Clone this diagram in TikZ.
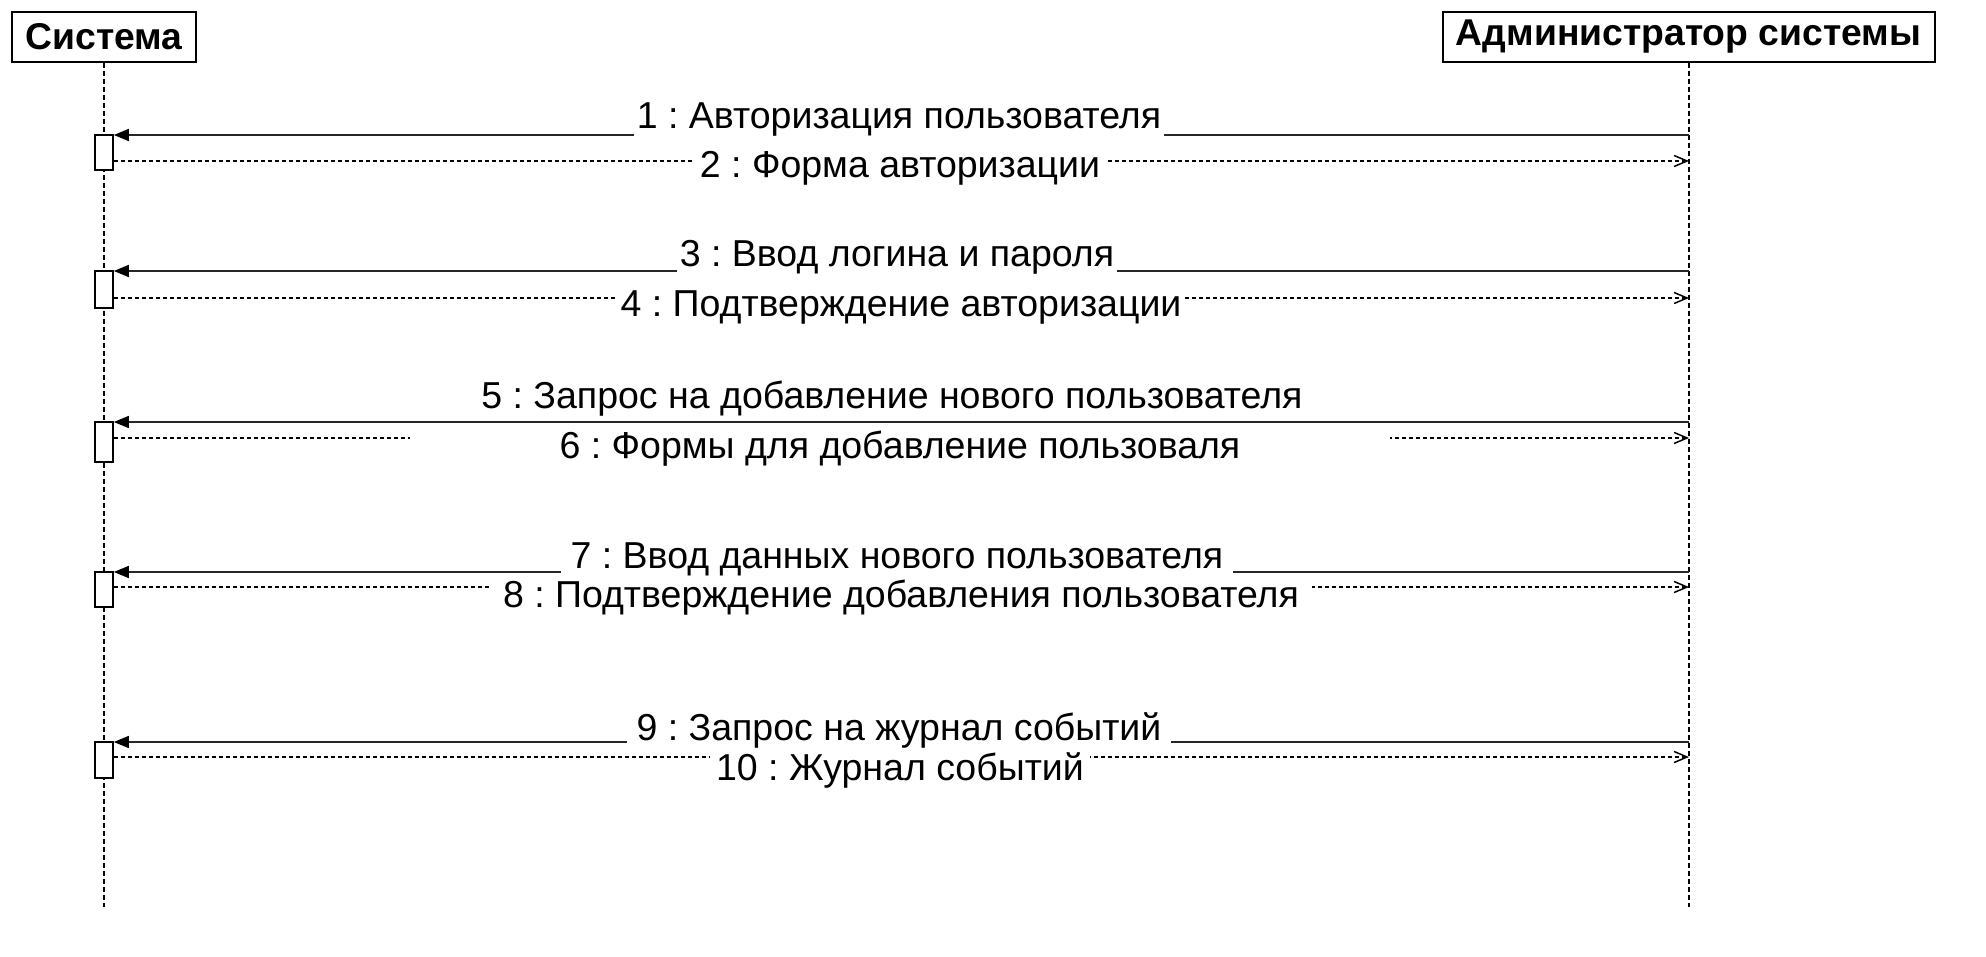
\documentclass[tikz,border=0pt]{standalone}
\usepackage{fontspec}
\setmainfont{Liberation Sans}
\usetikzlibrary{arrows.meta}
\begin{document}
\frenchspacing
\begin{tikzpicture}[x=1pt,y=-1pt,
  head/.style={draw=black, line width=2pt, fill=white, inner sep=0pt,
    minimum height=50pt, font=\bfseries\fontsize{37.3}{40}\selectfont},
  life/.style={line width=1.6pt, dash pattern=on 5pt off 3pt},
  act/.style={draw=black, line width=1.6pt, fill=white, minimum width=18pt, inner sep=0pt},
  call/.style={line width=1.6pt, draw=black!85, -{Triangle[length=15pt,width=12pt,color=black,fill=black]}},
  ret/.style={line width=1.5pt, dash pattern=on 4pt off 3pt, -{Straight Barb[length=13pt,width=11pt,line width=1.5pt]}},
  lbl/.style={fill=white, anchor=base, inner xsep=3pt, inner ysep=2.5pt, text height=26pt, text depth=5pt,
    font=\fontsize{37.5}{40}\selectfont}]
\useasboundingbox (0,0) rectangle (1986,957);
\fill[white] (0,0) rectangle (1986,957);

% participants
\node[head, minimum width=184pt] (sys) at (104,37) {Система};
\node[head, minimum width=492pt] (adm) at (1688.5,37) {Администратор системы};
\coordinate (sysend) at (104,907);
\coordinate (admend) at (1689,907);
\draw[life] (sys) -- (sysend);
\draw[life] (adm.south -| admend) -- (admend);

% activations
\node[act, minimum height=35pt] (a1) at (104,152.5) {};
\node[act, minimum height=37pt] (a2) at (104,289.5) {};
\node[act, minimum height=40pt] (a3) at (104,442) {};
\node[act, minimum height=35pt] (a4) at (104,589.5) {};
\node[act, minimum height=36pt] (a5) at (104,760) {};

% message endpoints on admin lifeline
\coordinate (m1) at (1689,135);
\coordinate (m2) at (1689,161);
\coordinate (m3) at (1689,271);
\coordinate (m4) at (1689,298);
\coordinate (m5) at (1689,422);
\coordinate (m6) at (1689,438);
\coordinate (m7) at (1689,572);
\coordinate (m8) at (1689,587);
\coordinate (m9) at (1689,742);
\coordinate (m10) at (1689,757);

\draw[call] (m1) -- (a1.east |- m1);
\draw[ret] (a1.east |- m2) -- (m2);
\draw[call] (m3) -- (a2.east |- m3);
\draw[ret] (a2.east |- m4) -- (m4);
\draw[call] (m5) -- (a3.east |- m5);
\draw[ret] (a3.east |- m6) -- (m6);
\draw[call] (m7) -- (a4.east |- m7);
\draw[ret] (a4.east |- m8) -- (m8);
\draw[call] (m9) -- (a5.east |- m9);
\draw[ret] (a5.east |- m10) -- (m10);

% labels
\node[lbl] (l1) at (899,129) {1 : Авторизация пользователя};
\node[lbl, inner xsep=5pt] (l2) at (900,178) {2 : Форма авторизации};
\node[lbl] (l3) at (897,267) {3 : Ввод логина и пароля};
\node[lbl, inner xsep=4pt] (l4) at (901,317) {4 : Подтверждение авторизации};
\node[lbl, inner xsep=50pt] (l5) at (892,408) {5 : Запрос на добавление нового пользователя};
\node[lbl, inner xsep=150pt] (l6) at (900,458) {6 : Формы для добавление пользоваля};
\node[lbl, inner xsep=10pt] (l7) at (897,568) {7 : Ввод данных нового пользователя};
\node[lbl, inner xsep=13pt] (l8) at (901,607) {8 : Подтверждение добавления пользователя};
\node[lbl, inner xsep=10pt] (l9) at (899,740) {9 : Запрос на журнал событий};
\node[lbl, inner xsep=6pt] (l10) at (900,780) {10 : Журнал событий};
\end{tikzpicture}
\end{document}
